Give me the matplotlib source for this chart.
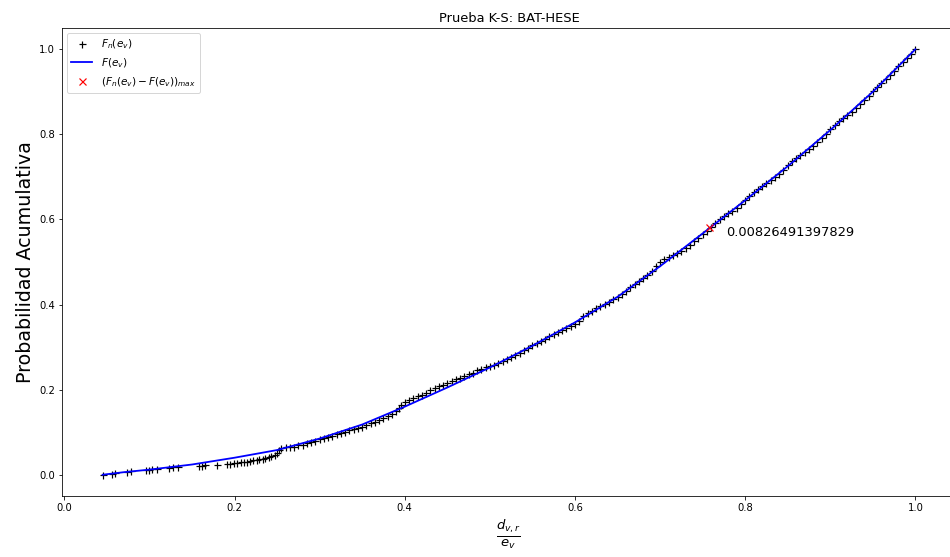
import matplotlib
matplotlib.use("Agg")
import matplotlib.pyplot as plt

fn_x = [0.045, 0.056, 0.059, 0.074, 0.078, 0.096, 0.099, 0.103, 0.109, 0.123,
        0.128, 0.134, 0.158, 0.162, 0.165, 0.179, 0.191, 0.195, 0.199, 0.203,
        0.207, 0.211, 0.215, 0.218, 0.222, 0.226, 0.229, 0.233, 0.236, 0.240,
        0.243, 0.247, 0.250, 0.252, 0.255, 0.260, 0.265,
        0.270, 0.275, 0.280, 0.285, 0.290, 0.295, 0.300, 0.305, 0.310, 0.315,
        0.320, 0.325, 0.330, 0.335, 0.340, 0.345, 0.350, 0.355, 0.360, 0.365,
        0.370, 0.375, 0.380, 0.385, 0.390, 0.393, 0.396, 0.400, 0.405, 0.410,
        0.415, 0.420, 0.425, 0.430, 0.435, 0.440, 0.445, 0.450, 0.455, 0.460,
        0.465, 0.470, 0.475, 0.480, 0.485, 0.490, 0.495, 0.500, 0.505, 0.510,
        0.515, 0.520, 0.525, 0.530, 0.535, 0.540, 0.545, 0.550, 0.555, 0.560,
        0.565, 0.570, 0.575, 0.580, 0.585, 0.590, 0.595, 0.600, 0.605, 0.610,
        0.615, 0.620, 0.625, 0.630, 0.635, 0.640, 0.645, 0.650, 0.655, 0.660,
        0.665, 0.670, 0.675, 0.680, 0.685, 0.690, 0.695, 0.700, 0.705, 0.710,
        0.715, 0.720, 0.725, 0.730, 0.735, 0.740, 0.745, 0.750, 0.755, 0.760,
        0.765, 0.770, 0.775, 0.780, 0.785, 0.790, 0.795, 0.800, 0.805, 0.810,
        0.815, 0.820, 0.825, 0.830, 0.835, 0.840, 0.845, 0.850, 0.855, 0.860,
        0.865, 0.870, 0.875, 0.880, 0.885, 0.890, 0.895, 0.900, 0.905, 0.910,
        0.915, 0.920, 0.925, 0.930, 0.935, 0.940, 0.945, 0.950, 0.955, 0.960,
        0.965, 0.970, 0.975, 0.980, 0.985, 0.990, 0.995, 1.000]
fn_y = [0.000, 0.002, 0.004, 0.006, 0.008, 0.010, 0.012, 0.013, 0.014, 0.016,
        0.017, 0.018, 0.020, 0.021, 0.022, 0.023, 0.025, 0.026, 0.027, 0.028,
        0.029, 0.030, 0.031, 0.032, 0.034, 0.035, 0.036, 0.038, 0.039, 0.041,
        0.043, 0.046, 0.052, 0.058, 0.062, 0.064, 0.066,
        0.066, 0.069, 0.071, 0.074, 0.077, 0.080, 0.083, 0.086, 0.089, 0.092,
        0.095, 0.098, 0.101, 0.104, 0.107, 0.110, 0.113, 0.117, 0.121, 0.125,
        0.129, 0.133, 0.137, 0.142, 0.150, 0.158, 0.165, 0.172, 0.176, 0.180,
        0.184, 0.188, 0.193, 0.198, 0.203, 0.208, 0.212, 0.216, 0.220, 0.224,
        0.228, 0.232, 0.236, 0.240, 0.245, 0.249, 0.253, 0.256, 0.259, 0.263,
        0.267, 0.271, 0.276, 0.281, 0.287, 0.293, 0.299, 0.305, 0.310, 0.315,
        0.320, 0.325, 0.330, 0.335, 0.340, 0.345, 0.350, 0.355, 0.362, 0.372,
        0.380, 0.386, 0.391, 0.396, 0.401, 0.406, 0.412, 0.418, 0.425, 0.433,
        0.441, 0.449, 0.456, 0.463, 0.470, 0.478, 0.490, 0.500, 0.507, 0.512,
        0.516, 0.521, 0.526, 0.533, 0.541, 0.549, 0.557, 0.565, 0.574, 0.583,
        0.592, 0.600, 0.607, 0.614, 0.621, 0.628, 0.636, 0.645, 0.655, 0.664,
        0.672, 0.679, 0.686, 0.693, 0.700, 0.708, 0.717, 0.727, 0.737, 0.745,
        0.752, 0.758, 0.765, 0.773, 0.782, 0.792, 0.802, 0.812, 0.822, 0.831,
        0.839, 0.846, 0.853, 0.861, 0.871, 0.881, 0.891, 0.901, 0.911, 0.920,
        0.929, 0.939, 0.950, 0.961, 0.971, 0.980, 0.990, 1.000]

# theoretical CDF
f_x = [0.045, 0.07, 0.10, 0.15, 0.20, 0.25, 0.30, 0.35, 0.40, 0.45, 0.50,
       0.55, 0.60, 0.65, 0.70, 0.75, 0.80, 0.85, 0.90, 0.95, 1.00]
f_y = [0.000, 0.006, 0.012, 0.024, 0.040, 0.058, 0.085, 0.118, 0.160, 0.205,
       0.252, 0.303, 0.358, 0.418, 0.490, 0.567, 0.645, 0.725, 0.810, 0.900,
       1.000]

# max difference
d_x = 0.758
d_y = 0.582
d_max = "0.00826491397829"

fig = plt.figure(figsize=(950 / 72, 557 / 72), dpi=72)
ax = fig.add_axes([62 / 950, 61 / 557, 894 / 950, 468 / 557])

ax.plot(fn_x, fn_y, 'k+', ms=7, mew=1.2, label=r'$F_n(e_v)$')
ax.plot(f_x, f_y, 'b-', lw=1.8, label=r'$F(e_v)$')
ax.plot(d_x, d_y, 'rx', ms=7, mew=1.2, label=r'$(F_n(e_v)-F(e_v))_{max}$')
ax.text(d_x + 0.02, d_y - 0.02, d_max, fontsize=13)

ax.set_title("Prueba K-S: BAT-HESE", fontsize=13)
ax.set_ylabel("Probabilidad Acumulativa", fontsize=19)
ax.set_xlabel(r'$\frac{d_{v,r}}{e_v}$', fontsize=19)
ax.legend(loc='upper left', fontsize=10.5)

fig.savefig("out.png", dpi=72)
